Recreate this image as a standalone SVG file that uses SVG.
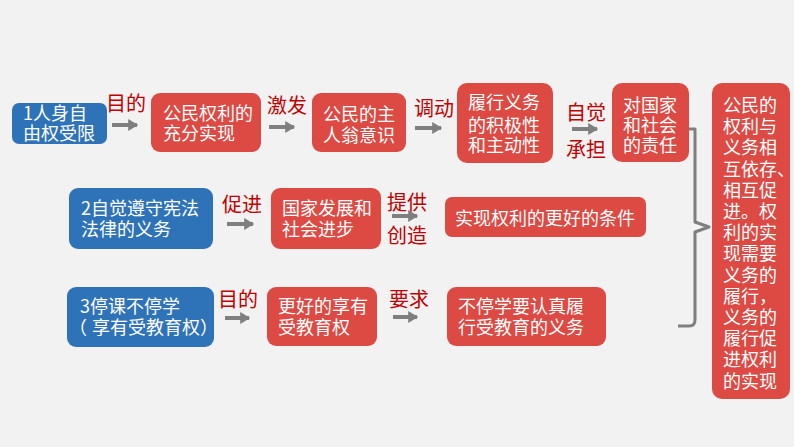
<svg xmlns="http://www.w3.org/2000/svg" width="794" height="447" viewBox="0 0 794 447">
<style>
.bg{fill:#f2f2f2}
.blue{fill:#2e72b8}
.red{fill:#dc4a43}
.t{font-family:"Noto Sans CJK SC","Noto Sans",sans-serif;font-size:18px;fill:#ffffff}
.lb{font-family:"Noto Sans CJK SC","Noto Sans",sans-serif;font-size:20px;fill:#c00000}
.ar{stroke:#7f7f7f;stroke-width:4;fill:none}
.br{stroke:#7f7f7f;stroke-width:3;fill:none;stroke-linejoin:round}
</style>
<defs>
<marker id="ah" markerWidth="4" markerHeight="4" refX="2.2" refY="2" orient="auto" markerUnits="strokeWidth">
<path d="M0,0.5 L2.5,2 L0,3.5 Z" fill="#7f7f7f"/>
</marker>
</defs>
<rect class="bg" x="0" y="0" width="794" height="447"/>

<g id="n1"><rect class="blue" x="12" y="103" width="95" height="41" rx="7"/>
<text class="t"><tspan x="23" y="120">1人身自</tspan><tspan x="23" y="140">由权受限</tspan></text></g>
<g id="n2"><rect class="red" x="151" y="93" width="110" height="59" rx="9"/>
<text class="t"><tspan x="163" y="120">公民权利的</tspan><tspan x="163" y="140">充分实现</tspan></text></g>
<g id="n3"><rect class="red" x="312" y="93" width="94" height="59" rx="9"/>
<text class="t"><tspan x="323" y="121">公民的主</tspan><tspan x="323" y="142">人翁意识</tspan></text></g>
<g id="n4"><rect class="red" x="457" y="83" width="96" height="80" rx="10"/>
<text class="t"><tspan x="468" y="109">履行义务</tspan><tspan x="468" y="132">的积极性</tspan><tspan x="468" y="152">和主动性</tspan></text></g>
<g id="n5"><rect class="red" x="612" y="83" width="77" height="79" rx="10"/>
<text class="t"><tspan x="623" y="112">对国家</tspan><tspan x="623" y="132">和社会</tspan><tspan x="623" y="152">的责任</tspan></text></g>
<g id="n6"><rect class="red" x="712" y="83" width="78" height="316" rx="10"/>
<text class="t"><tspan x="723" y="112">公民的</tspan><tspan x="723" y="133.2">权利与</tspan><tspan x="723" y="154.4">义务相</tspan><tspan x="723" y="175.6">互依存、</tspan><tspan x="723" y="196.8">相互促</tspan><tspan x="723" y="218">进。权</tspan><tspan x="723" y="239.2">利的实</tspan><tspan x="723" y="260.4">现需要</tspan><tspan x="723" y="281.6">义务的</tspan><tspan x="723" y="302.8">履行，</tspan><tspan x="723" y="324">义务的</tspan><tspan x="723" y="345.2">履行促</tspan><tspan x="723" y="366.4">进权利</tspan><tspan x="723" y="387.6">的实现</tspan></text></g>

<g id="n7"><rect class="blue" x="69" y="188" width="144" height="61" rx="9"/>
<text class="t"><tspan x="81" y="215">2自觉遵守宪法</tspan><tspan x="81" y="236">法律的义务</tspan></text></g>
<g id="n8"><rect class="red" x="271" y="188" width="110" height="61" rx="9"/>
<text class="t"><tspan x="282" y="215">国家发展和</tspan><tspan x="282" y="236">社会进步</tspan></text></g>
<g id="n9"><rect class="red" x="445" y="197" width="201" height="40" rx="7"/>
<text class="t" x="455" y="225">实现权利的更好的条件</text></g>

<g id="n10"><rect class="blue" x="67" y="287" width="147" height="60" rx="9"/>
<text class="t"><tspan x="80" y="313">3停课不停学</tspan><tspan x="69" y="334">（</tspan><tspan dx="5">享有受教育权）</tspan></text></g>
<g id="n11"><rect class="red" x="267" y="287" width="110" height="59" rx="9"/>
<text class="t"><tspan x="278" y="313">更好的享有</tspan><tspan x="278" y="334">受教育权</tspan></text></g>
<g id="n12"><rect class="red" x="447" y="287" width="159" height="59" rx="9"/>
<text class="t"><tspan x="458" y="313">不停学要认真履</tspan><tspan x="458" y="334">行受教育的义务</tspan></text></g>

<g id="connectors">
<line class="ar" x1="112" y1="125" x2="137" y2="125" marker-end="url(#ah)"/>
<line class="ar" x1="269" y1="127" x2="294" y2="127" marker-end="url(#ah)"/>
<line class="ar" x1="415" y1="128" x2="441" y2="128" marker-end="url(#ah)"/>
<line class="ar" x1="572" y1="129" x2="597" y2="129" marker-end="url(#ah)"/>
<line class="ar" x1="227" y1="224" x2="253" y2="224" marker-end="url(#ah)"/>
<line class="ar" x1="392" y1="216" x2="417" y2="216" marker-end="url(#ah)"/>
<line class="ar" x1="225" y1="318" x2="249" y2="318" marker-end="url(#ah)"/>
<line class="ar" x1="393" y1="317" x2="417" y2="317" marker-end="url(#ah)"/>
<path class="br" d="M689,129 H695 V222 L709,227 L695,232 V320 Q695,326 689,326 H678"/>
<text class="lb" x="106" y="111">目的</text>
<text class="lb" x="267" y="113">激发</text>
<text class="lb" x="414" y="116">调动</text>
<text class="lb" x="566" y="120">自觉</text>
<text class="lb" x="566" y="157">承担</text>
<text class="lb" x="222" y="212">促进</text>
<text class="lb" x="387" y="210">提供</text>
<text class="lb" x="387" y="243">创造</text>
<text class="lb" x="218" y="307">目的</text>
<text class="lb" x="389" y="307">要求</text>
</g>
</svg>
